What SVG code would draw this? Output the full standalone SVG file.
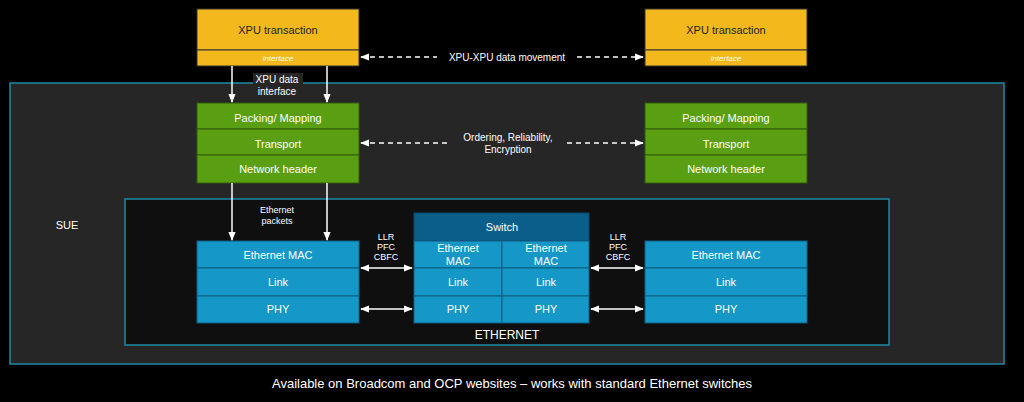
<svg xmlns="http://www.w3.org/2000/svg" width="1024" height="402" viewBox="0 0 1024 402">
<style>
text{font-family:"Liberation Sans",Arial,sans-serif;fill:#fff;text-anchor:middle}
.y{fill:#f2b81c;stroke:#333;stroke-width:1}
.yt{fill:#222;font-size:11px}
.g{fill:#5a9e12;stroke:#2f5c08;stroke-width:1}
.b{fill:#1597c8;stroke:#0d5f82;stroke-width:1}
.t{font-size:11px}
.s{font-size:9px}
.ln{stroke:#fff;stroke-width:1.5;fill:none}
.d{stroke:#fff;stroke-width:1.5;fill:none;stroke-dasharray:5 4}
</style>
<defs>
<marker id="a" viewBox="0 0 10 10" refX="9" refY="5" markerWidth="6" markerHeight="6" orient="auto-start-reverse"><path d="M0,1L10,5L0,9z" fill="#fff"/></marker>
</defs>
<rect width="1024" height="402" fill="#000"/>
<rect x="10" y="83" width="994" height="281" fill="#262626" stroke="#1c8aa8" stroke-width="1.5"/>
<text x="67" y="229" class="t">SUE</text>
<rect x="125" y="199" width="764" height="146" fill="#0f0f0f" stroke="#1c8aa8" stroke-width="1.5"/>
<text x="507" y="339" font-size="12">ETHERNET</text>
<g id="xpu1"><rect class="y" x="197" y="9" width="162" height="41"/><rect class="y" x="197" y="50" width="162" height="16"/>
<text x="278" y="34" class="yt">XPU transaction</text><text x="278" y="61" font-size="8" font-style="italic" fill="#222">interface</text></g>
<g id="xpu2"><rect class="y" x="645" y="9" width="162" height="41"/><rect class="y" x="645" y="50" width="162" height="16"/>
<text x="726" y="34" class="yt">XPU transaction</text><text x="726" y="61" font-size="8" font-style="italic" fill="#222">interface</text></g>
<g id="green1"><rect class="g" x="197" y="103" width="162" height="26"/><rect class="g" x="197" y="129" width="162" height="26"/><rect class="g" x="197" y="155" width="162" height="28"/>
<text x="278" y="122" class="t">Packing/ Mapping</text><text x="278" y="148" class="t">Transport</text><text x="278" y="173" class="t">Network header</text></g>
<g id="green2"><rect class="g" x="645" y="103" width="162" height="26"/><rect class="g" x="645" y="129" width="162" height="26"/><rect class="g" x="645" y="155" width="162" height="28"/>
<text x="726" y="122" class="t">Packing/ Mapping</text><text x="726" y="148" class="t">Transport</text><text x="726" y="173" class="t">Network header</text></g>
<g id="eth1"><rect class="b" x="197" y="241" width="162" height="27"/><rect class="b" x="197" y="268" width="162" height="28"/><rect class="b" x="197" y="296" width="162" height="27"/>
<text x="278" y="259" class="t">Ethernet MAC</text><text x="278" y="286" class="t">Link</text><text x="278" y="313" class="t">PHY</text></g>
<g id="eth2"><rect class="b" x="645" y="241" width="162" height="27"/><rect class="b" x="645" y="268" width="162" height="28"/><rect class="b" x="645" y="296" width="162" height="27"/>
<text x="726" y="259" class="t">Ethernet MAC</text><text x="726" y="286" class="t">Link</text><text x="726" y="313" class="t">PHY</text></g>
<g id="switch"><rect x="414" y="213" width="175" height="28" fill="#0b5d8a" stroke="#0a4a6e"/>
<text x="502" y="231" class="t">Switch</text>
<rect class="b" x="414" y="241" width="88" height="27"/><rect class="b" x="414" y="268" width="88" height="28"/><rect class="b" x="414" y="296" width="88" height="27"/>
<rect class="b" x="502" y="241" width="87" height="27"/><rect class="b" x="502" y="268" width="87" height="28"/><rect class="b" x="502" y="296" width="87" height="27"/>
<text x="458" y="252" class="t">Ethernet</text><text x="458" y="265" class="t">MAC</text>
<text x="546" y="252" class="t">Ethernet</text><text x="546" y="265" class="t">MAC</text>
<text x="458" y="286" class="t">Link</text><text x="546" y="286" class="t">Link</text>
<text x="458" y="313" class="t">PHY</text><text x="546" y="313" class="t">PHY</text></g>
<g id="connectors">
<line class="ln" x1="232" y1="66" x2="232" y2="102" marker-end="url(#a)"/>
<line class="ln" x1="327" y1="66" x2="327" y2="102" marker-end="url(#a)"/>
<line class="ln" x1="232" y1="183" x2="232" y2="240" marker-end="url(#a)"/>
<line class="ln" x1="327" y1="183" x2="327" y2="240" marker-end="url(#a)"/>
<line class="d" x1="361" y1="57" x2="437" y2="57" marker-start="url(#a)"/>
<line class="d" x1="577" y1="57" x2="643" y2="57" marker-end="url(#a)"/>
<line class="d" x1="361" y1="143" x2="450" y2="143" marker-start="url(#a)"/>
<line class="d" x1="567" y1="143" x2="643" y2="143" marker-end="url(#a)"/>
<line class="ln" x1="361" y1="268" x2="412" y2="268" marker-start="url(#a)" marker-end="url(#a)"/>
<line class="ln" x1="361" y1="309" x2="412" y2="309" marker-start="url(#a)" marker-end="url(#a)"/>
<line class="ln" x1="591" y1="268" x2="643" y2="268" marker-start="url(#a)" marker-end="url(#a)"/>
<line class="ln" x1="591" y1="309" x2="643" y2="309" marker-start="url(#a)" marker-end="url(#a)"/>
</g>
<text x="507" y="61" font-size="10">XPU-XPU data movement</text>
<rect x="253" y="73" width="50" height="11" fill="#262626"/>
<text x="277" y="83" font-size="10">XPU data</text><text x="277" y="95" font-size="10">interface</text>
<text x="508" y="141" font-size="10">Ordering, Reliability,</text><text x="508" y="153" font-size="10">Encryption</text>
<text x="277" y="213" font-size="9">Ethernet</text><text x="277" y="224" font-size="9">packets</text>
<text x="386" y="240" class="s">LLR</text><text x="386" y="250" class="s">PFC</text><text x="386" y="260" class="s">CBFC</text>
<text x="618" y="240" class="s">LLR</text><text x="618" y="250" class="s">PFC</text><text x="618" y="260" class="s">CBFC</text>
<text x="512" y="388" font-size="13">Available on Broadcom and OCP websites – works with standard Ethernet switches</text>
</svg>
